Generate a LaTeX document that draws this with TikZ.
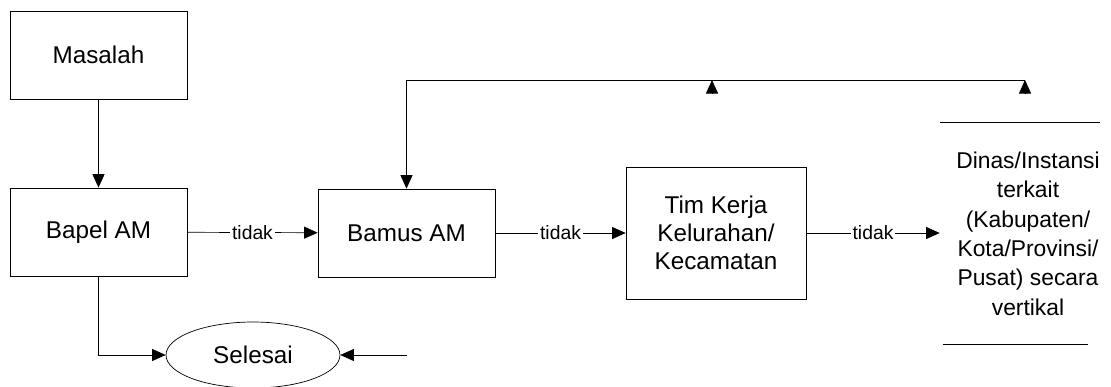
\documentclass[tikz,border=0pt]{standalone}
\usepackage{fontspec}
\setmainfont{Liberation Sans}
\usetikzlibrary{positioning,arrows.meta,shapes.geometric,calc}
\tikzset{
  flow box/.style={
    rectangle,
    draw,
    thin,
    minimum width=3.54cm,
    minimum height=1.76cm,
    align=center,
    font=\fontsize{13.8}{15.9}\selectfont
  },
  flow end/.style={
    ellipse,
    draw,
    thin,
    minimum width=3.48cm,
    minimum height=1.32cm,
    font=\fontsize{13.8}{15.9}\selectfont
  },
  arrow/.style={
    -{Triangle[length=0.27cm,width=0.24cm]},
    thin
  },
  answer/.style={
    fill=white,
    inner sep=1pt,
    font=\fontsize{11}{13}\selectfont
  }
}

\begin{document}
\begin{tikzpicture}[x=0.02cm,y=-0.02cm]
  \useasboundingbox (0,0) rectangle (1111,386);

  % Boxes
  \node[flow box] (masalah) at (98.5,55) {Masalah};
  \node[flow box] (bapel) at (98.5,232) {Bapel AM};
  \node[flow box] (bamus) at (406.5,233) {Bamus AM};
  \node[flow box, minimum width=3.6cm, minimum height=2.64cm] (tim) at (716,233) {Tim Kerja\\Kelurahan/\\Kecamatan};
  \node[align=center, minimum width=3.52cm, minimum height=4.42cm,
        font=\fontsize{13}{16.7}\selectfont] (dinas) at (1028,233.5)
        {Dinas/Instansi\\terkait\\(Kabupaten/\\Kota/Provinsi/\\Pusat) secara\\vertikal};
  \draw[thin] (dinas.north west) -- ($(dinas.north east)+(-16,0)$);
  \draw[thin] ($(dinas.south west)+(3,0)$) -- ($(dinas.south east)+(-28,0)$);
  \node[flow end] (selesai) at (253,355) {Selesai};

  % Main flow
  \draw[arrow] (masalah) -- (bapel);
  \draw[arrow] (bapel) -- node[answer] {tidak} (bamus);
  \draw[arrow] (bamus) -- node[answer] {tidak} (tim);
  \draw[arrow] (tim) -- node[answer] {tidak} (dinas.west |- tim.east);
  \draw[arrow] (bapel.south) |- (selesai.west);
  \coordinate (selR) at (407,355);
  \draw[arrow] (selR) -- (selesai.east);

  % Feedback to Bamus AM
  \coordinate (fbR) at (1025,80);
  \coordinate (fbT) at (712,80);
  \draw[arrow] (fbR) -- (fbR -| bamus.north) -- (bamus.north);
  \draw[arrow] ($(fbT)+(0,14)$) -- (fbT);
  \draw[arrow] ($(fbR)+(0,14)$) -- (fbR);
\end{tikzpicture}
\end{document}
